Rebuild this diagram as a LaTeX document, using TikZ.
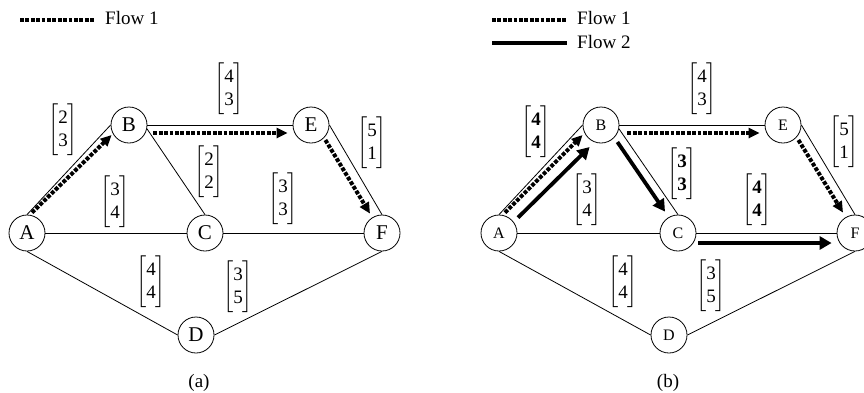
\documentclass[tikz,border=0pt]{standalone}
\usepackage{amsmath}
\usepackage{fontspec}
\setmainfont{Liberation Serif}
\usepackage{tikz}
\usetikzlibrary{
  arrows.meta,
  calc
}
\newcommand{\cvec}[2]{$\delimiterfactor=1000\delimitershortfall=0pt\left[\vcenter{\hbox{\rule{0pt}{50pt}}}\begin{tabular}{@{}c@{}}#1\\#2\end{tabular}\right]$}
\tikzset{
  vertex/.style={
    draw,
    circle,
    line width=0.8pt,
    minimum size=36pt,
    inner sep=0pt,
    font=\fontsize{21}{21}\selectfont},
  vertexsm/.style={
    vertex,
    font=\fontsize{16}{16}\selectfont},
  edge/.style={line width=0.8pt},
  weight/.style={inner sep=0pt, font=\fontsize{19}{23}\selectfont},
  label/.style={inner sep=0pt, font=\fontsize{19}{23}\selectfont},
  flowone/.style={
    line width=4pt,
    dash pattern=on 3.8pt off 1.6pt,
    -{Triangle[length=11pt,width=10pt]}},
  flowtwo/.style={
    line width=3.8pt,
    -{Triangle[length=12pt,width=13pt]}}
  }

\begin{document}
\begin{tikzpicture}[x=1pt, y=-1pt]
      \useasboundingbox (0,0) rectangle (864,392);
      % (a)
      \coordinate (la1) at (20,20);
      \coordinate (la2) at (95,20);
      \node [label, anchor=base west] (fa) at (105,24) {Flow 1};
      \draw [flowone, -] (la1) to (la2);
      \node [vertex] (a1) at (27,233) {A};
      \node [vertex] (b1) at (129,125) {B};
      \node [vertex] (e1) at (311,125) {E};
      \node [vertex] (c1) at (205,233) {C};
      \node [vertex] (f1) at (382,233) {F};
      \node [vertex] (d1) at (196,335) {D};
      \draw [edge] (a1.north) to (b1.west);
      \draw [edge] (b1.east) to (e1.west);
      \draw [edge] (b1.-12) to (c1.north);
      \draw [edge] (e1.east) to (f1.north);
      \draw [edge] (a1.east) to (c1.west);
      \draw [edge] (c1.east) to (f1.west);
      \draw [edge] (a1.south) to (d1.west);
      \draw [edge] (d1.east) to (f1.south);
      \node [weight] (ab1) at (63,130) {\cvec{2}{3}};
      \node [weight] (be1) at (229,89) {\cvec{4}{3}};
      \node [weight] (ef1) at (372,143) {\cvec{5}{1}};
      \node [weight] (bc1) at (209,172) {\cvec{2}{2}};
      \node [weight] (ac1) at (115,202) {\cvec{3}{4}};
      \node [weight] (cf1) at (283,199) {\cvec{3}{3}};
      \node [weight] (ad1) at (151,282) {\cvec{4}{4}};
      \node [weight] (df1) at (238,287) {\cvec{3}{5}};
      \draw [flowone] ([shift={(5,-2)}]a1.north) to ([shift={(1,10)}]b1.west);
      \draw [flowone] ([shift={(6,8)}]b1.east) to ([shift={(-5,8)}]e1.west);
      \draw [flowone] ([shift={(-4,15)}]e1.east) to ([shift={(-12,-1)}]f1.north);
      \node [label] (capa) at (199,383) {(a)};
      % (b)
      \coordinate (lb1) at (492,20);
      \coordinate (lb2) at (567,20);
      \coordinate (lc1) at (492,43);
      \coordinate (lc2) at (567,43);
      \node [label, anchor=base west] (fb) at (577,24) {Flow 1};
      \node [label, anchor=base west] (fc) at (577,48) {Flow 2};
      \draw [flowone, -] (lb1) to (lb2);
      \draw [flowtwo, -] (lc1) to (lc2);
      \node [vertexsm] (a2) at (499,233) {A};
      \node [vertexsm] (b2) at (601,125) {B};
      \node [vertexsm] (e2) at (783,125) {E};
      \node [vertexsm] (c2) at (678,233) {C};
      \node [vertexsm] (f2) at (855,233) {F};
      \node [vertexsm] (d2) at (669,335) {D};
      \draw [edge] (a2.north) to (b2.west);
      \draw [edge] (b2.east) to (e2.west);
      \draw [edge] (b2.-12) to (c2.north);
      \draw [edge] (e2.east) to (f2.north);
      \draw [edge] (a2.east) to (c2.west);
      \draw [edge] (c2.east) to (f2.west);
      \draw [edge] (a2.south) to (d2.west);
      \draw [edge] (d2.east) to (f2.south);
      \node [weight] (ab2) at (536,132) {\cvec{\textbf{4}}{\textbf{4}}};
      \node [weight] (be2) at (702,89) {\cvec{4}{3}};
      \node [weight] (ef2) at (844,142) {\cvec{5}{1}};
      \node [weight] (bc2) at (682,174) {\cvec{\textbf{3}}{\textbf{3}}};
      \node [weight] (ac2) at (587,200) {\cvec{3}{4}};
      \node [weight] (cf2) at (757,200) {\cvec{\textbf{4}}{\textbf{4}}};
      \node [weight] (ad2) at (623,282) {\cvec{4}{4}};
      \node [weight] (df2) at (711,286) {\cvec{3}{5}};
      \draw [flowone] ([shift={(6,-2)}]a2.north) to ([shift={(0,10)}]b2.west);
      \draw [flowtwo] ([shift={(19,3)}]a2.north) to ([shift={(7,22)}]b2.west);
      \draw [flowtwo] ([shift={(-2,17)}]b2.east) to ([shift={(-13,-3)}]c2.north);
      \draw [flowone] ([shift={(8,8)}]b2.east) to ([shift={(-5,8)}]e2.west);
      \draw [flowone] ([shift={(-3,15)}]e2.east) to ([shift={(-12,-2)}]f2.north);
      \draw [flowtwo] ([shift={(2,10)}]c2.east) to ([shift={(-5,10)}]f2.west);
      \node [label] (capb) at (668,383) {(b)};
    \end{tikzpicture}
\end{document}
